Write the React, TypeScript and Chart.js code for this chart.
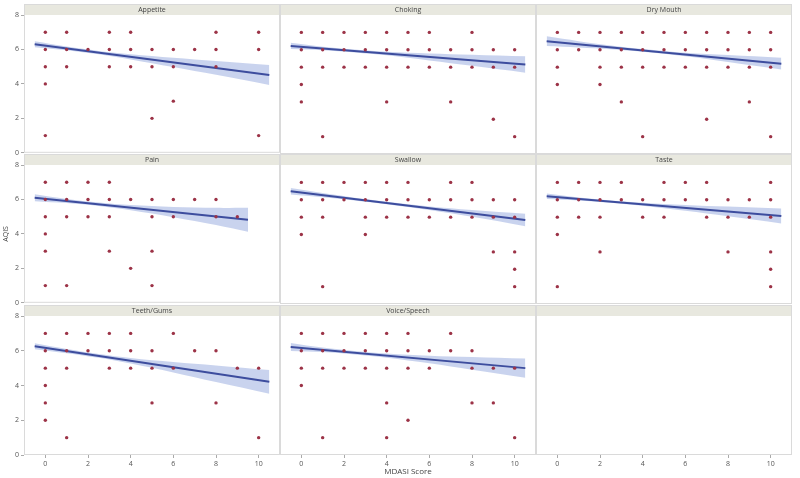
import React, { useEffect, useRef } from 'react';
import { Chart, registerables } from 'chart.js';
Chart.register(...registerables);

// ---------------- DATA ----------------
const categories = ['Appetite', 'Choking', 'Dry Mouth', 'Pain', 'Swallow', 'Taste', 'Teeth/Gums', 'Voice/Speech'];
const xTicks = [0, 2, 4, 6, 8, 10];
const yTicks = [0, 2, 4, 6, 8];

// AQIS values observed at each MDASI score (index = MDASI score 0..10)
const appetite = [[7, 6, 5, 4, 1], [7, 6, 5], [6], [7, 6, 5], [7, 6, 5], [6, 5, 2], [6, 5, 3], [6], [7, 6, 5], [], [7, 6, 1]];
const choking = [[7, 6, 5, 4, 3], [7, 6, 5, 1], [7, 6, 5], [7, 6, 5], [7, 6, 5, 3], [7, 6, 5], [7, 6, 5], [6, 5, 3], [7, 6, 5], [6, 5, 2], [6, 5, 1]];
const dryMouth = [[7, 6, 5, 4], [7, 6], [7, 6, 5, 4], [7, 6, 5, 3], [7, 6, 5, 1], [7, 6, 5], [7, 6, 5], [7, 6, 5, 2], [7, 6, 5], [7, 6, 5, 3], [7, 6, 5, 1]];
const pain = [[7, 6, 5, 4, 3, 1], [7, 6, 5, 1], [7, 6, 5], [7, 6, 5, 3], [6, 2], [6, 5, 3, 1], [6, 5], [6], [6, 5], [5], []];
const swallow = [[7, 6, 5, 4], [7, 6, 5, 1], [7, 6], [7, 6, 5, 4], [7, 6, 5], [7, 6, 5], [6, 5], [7, 6, 5], [7, 6, 5], [6, 5, 3], [6, 5, 3, 2, 1]];
const taste = [[7, 6, 5, 4, 1], [7, 6, 5], [7, 6, 5, 3], [7, 6], [6, 5], [7, 6, 5], [7, 6], [7, 6, 5], [6, 5, 3], [6, 5], [7, 6, 5, 3, 2, 1]];
const teethGums = [[7, 6, 5, 4, 3, 2], [7, 6, 5, 1], [7, 6], [7, 6, 5], [7, 6, 5], [6, 5, 3], [7, 5], [6], [6, 3], [5], [5, 1]];
const voiceSpeech = [[7, 6, 5, 4], [7, 6, 5, 1], [7, 6, 5], [7, 6, 5], [7, 6, 5, 3, 1], [7, 6, 5, 2], [6, 5], [7, 6], [6, 5, 3], [5, 3], [5, 1]];
const seriesBySymptom = [appetite, choking, dryMouth, pain, swallow, taste, teethGums, voiceSpeech];

// fitted regression line end points
const fitStartX = [-0.5, -0.5, -0.5, -0.5, -0.5, -0.5, -0.5, -0.5];
const fitEndX = [10.5, 10.5, 10.5, 9.5, 10.5, 10.5, 10.5, 10.5];
const fitStartY = [6.3, 6.22, 6.49, 6.1, 6.49, 6.2, 6.26, 6.22];
const fitEndY = [4.52, 5.15, 5.2, 4.82, 4.84, 5.07, 4.21, 5.0];

// confidence band half-width at these MDASI scores
const bandX = [-0.5, 1, 2.5, 4, 6, 8, 10.5];
const bandAppetite = [0.17, 0.11, 0.1, 0.15, 0.27, 0.4, 0.58];
const bandChoking = [0.18, 0.1, 0.08, 0.1, 0.2, 0.32, 0.47];
const bandDryMouth = [0.28, 0.18, 0.11, 0.08, 0.1, 0.2, 0.34];
const bandPain = [0.2, 0.12, 0.1, 0.15, 0.3, 0.5, 0.7];
const bandSwallow = [0.19, 0.12, 0.08, 0.07, 0.1, 0.2, 0.36];
const bandTaste = [0.16, 0.09, 0.07, 0.09, 0.17, 0.28, 0.43];
const bandTeethGums = [0.17, 0.12, 0.11, 0.16, 0.3, 0.48, 0.68];
const bandVoiceSpeech = [0.23, 0.13, 0.1, 0.12, 0.22, 0.37, 0.56];
const bandBySymptom = [bandAppetite, bandChoking, bandDryMouth, bandPain, bandSwallow, bandTaste, bandTeethGums, bandVoiceSpeech];

// ---------------- LAYOUT / STYLE ----------------
const COL_LEFT = [24, 280, 536];
const COL_W = 256;
const ROW_TOP = [4, 154, 305];
const HEADER_H = 11;
const PLOT_H = 139;
const YAX_W = 24;
const XAX_H = 23;
const GAP_PAD = 5;
const FONT = '"Open Sans", "DejaVu Sans", sans-serif';

const framePlugin = {
  id: 'panelFrame',
  beforeDraw(chart: any, _args: any, opts: any) {
    const { ctx, chartArea: a } = chart;
    ctx.save();
    ctx.fillStyle = '#e8e8df';
    ctx.fillRect(a.left, a.top - HEADER_H, a.right - a.left, HEADER_H);
    ctx.strokeStyle = '#dadada';
    ctx.lineWidth = 1;
    ctx.strokeRect(a.left + 0.5, a.top - HEADER_H + 0.5, a.right - a.left - 1, a.bottom - a.top + HEADER_H - 1);
    ctx.fillStyle = '#444';
    ctx.font = '7px ' + FONT;
    ctx.textAlign = 'center';
    ctx.textBaseline = 'middle';
    if (opts && opts.title) ctx.fillText(opts.title, (a.left + a.right) / 2, a.top - HEADER_H / 2 + 0.5);
    ctx.restore();
  },
};

function Panel({ idx, row, col }: { idx: number; row: number; col: number }) {
  const ref = useRef<HTMLCanvasElement | null>(null);
  const isLeft = col === 0;
  const isBottom = row === 2;
  const width = COL_W + (isLeft ? YAX_W : 0);
  const height = HEADER_H + PLOT_H + (isBottom ? XAX_H : GAP_PAD);
  const left = COL_LEFT[col] - (isLeft ? YAX_W : 0);
  const top = ROW_TOP[row];

  useEffect(() => {
    if (!ref.current) return;
    const datasets: any[] = [];
    const hasData = idx >= 0 && idx < categories.length;
    if (hasData) {
      const pts: { x: number; y: number }[] = [];
      seriesBySymptom[idx].forEach((ys, x) => ys.forEach((y) => pts.push({ x, y })));
      const x0 = fitStartX[idx], x1 = fitEndX[idx], y0 = fitStartY[idx], y1 = fitEndY[idx];
      const lineAt = (x: number) => y0 + ((y1 - y0) * (x - x0)) / (x1 - x0);
      const bx = bandX.map((x, k) => (k === bandX.length - 1 ? x1 : Math.min(x, x1)));
      const upper = bx.map((x, k) => ({ x, y: lineAt(x) + bandBySymptom[idx][k] }));
      const lower = bx.map((x, k) => ({ x, y: lineAt(x) - bandBySymptom[idx][k] }));
      datasets.push(
        { data: pts, pointRadius: 1.7, pointBackgroundColor: '#9c3347', pointBorderWidth: 0, order: 0 },
        { data: [{ x: x0, y: y0 }, { x: x1, y: y1 }], showLine: true, borderColor: '#3d4d9e', borderWidth: 2, pointRadius: 0, order: 1 },
        { data: upper, showLine: true, borderWidth: 0, borderColor: 'rgba(0,0,0,0)', pointRadius: 0, tension: 0.35, fill: '+1', backgroundColor: 'rgba(112,140,210,0.38)', order: 2 },
        { data: lower, showLine: true, borderWidth: 0, borderColor: 'rgba(0,0,0,0)', pointRadius: 0, tension: 0.35, fill: false, order: 3 }
      );
    }
    const chart = new Chart(ref.current, {
      type: 'scatter',
      data: { datasets },
      plugins: [framePlugin],
      options: {
        animation: false,
        responsive: false,
        events: [],
        layout: { autoPadding: false, padding: { top: HEADER_H, bottom: isBottom ? 0 : GAP_PAD, left: 0, right: 0 } },
        plugins: {
          legend: { display: false },
          tooltip: { enabled: false },
          panelFrame: { title: hasData ? categories[idx] : '' },
        } as any,
        scales: {
          x: {
            type: 'linear',
            min: -1,
            max: 11,
            display: isBottom,
            afterBuildTicks: (s: any) => { s.ticks = xTicks.map((v) => ({ value: v })); },
            afterFit: (s: any) => { s.height = isBottom ? XAX_H : 0; },
            grid: { drawOnChartArea: false, drawTicks: true, tickLength: 3, color: '#aaa' },
            border: { display: false },
            ticks: { font: { size: 7, family: FONT }, color: '#555', padding: 2, maxRotation: 0 },
            title: {
              display: isBottom && col === 1,
              text: 'MDASI Score',
              font: { size: 8, family: FONT },
              color: '#444',
              padding: { top: 0, bottom: 1 },
            },
          },
          y: {
            type: 'linear',
            min: 0,
            max: 8,
            display: isLeft,
            afterBuildTicks: (s: any) => { s.ticks = yTicks.map((v) => ({ value: v })); },
            afterFit: (s: any) => { s.width = isLeft ? YAX_W : 0; },
            grid: { drawOnChartArea: false, drawTicks: true, tickLength: 3, color: '#aaa' },
            border: { display: false },
            ticks: { font: { size: 7, family: FONT }, color: '#555', padding: 2 },
            title: {
              display: isLeft && row === 1,
              text: 'AQIS',
              font: { size: 7, family: FONT },
              color: '#444',
              padding: { top: 2, bottom: 0 },
            },
          },
        },
      } as any,
    });
    return () => chart.destroy();
  }, [idx, row, col]);

  return (
    <canvas
      ref={ref}
      width={width}
      height={height}
      style={{ position: 'absolute', left, top, width, height }}
    />
  );
}

export default function App() {
  const cells = [0, 1, 2, 3, 4, 5, 6, 7, 8];
  return (
    <div style={{ position: 'fixed', left: 0, top: 0, width: 800, height: 478, background: '#fff', overflow: 'hidden' }}>
      {cells.map((i) => (
        <Panel key={i} idx={i} row={Math.floor(i / 3)} col={i % 3} />
      ))}
    </div>
  );
}
